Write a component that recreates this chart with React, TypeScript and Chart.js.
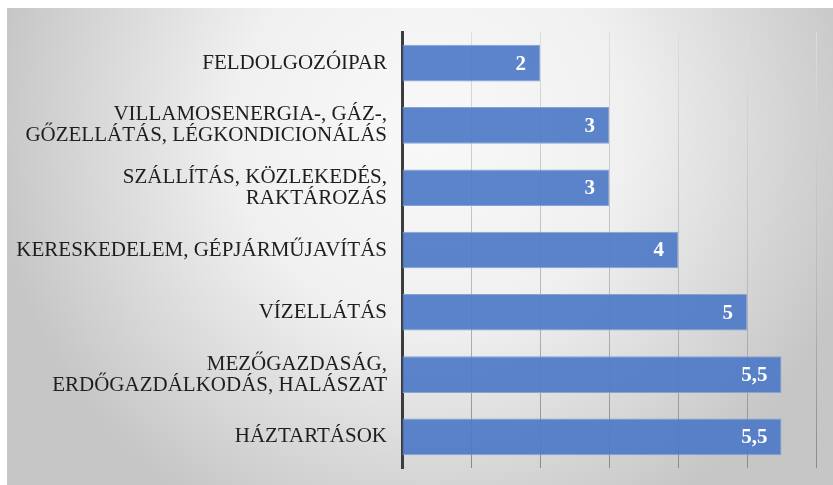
import React, { useEffect, useRef } from "react";
import { Chart, registerables } from "chart.js";

Chart.register(...registerables);

const categories: (string | string[])[] = [
  "FELDOLGOZÓIPAR",
  ["VILLAMOSENERGIA-, GÁZ-,", "GŐZELLÁTÁS, LÉGKONDICIONÁLÁS"],
  ["SZÁLLÍTÁS, KÖZLEKEDÉS,", "RAKTÁROZÁS"],
  "KERESKEDELEM, GÉPJÁRMŰJAVÍTÁS",
  "VÍZELLÁTÁS",
  ["MEZŐGAZDASÁG,", "ERDŐGAZDÁLKODÁS, HALÁSZAT"],
  "HÁZTARTÁSOK",
];
const values: number[] = [2, 3, 3, 4, 5, 5.5, 5.5];
const valueLabels: string[] = ["2", "3", "3", "4", "5", "5,5", "5,5"];
const xMin = 0;
const xMax = 6;
const xStep = 1;

const FONT = "'Liberation Serif', 'Times New Roman', serif";

const bgPlugin = {
  id: "bgPlugin",
  beforeDraw(chart: any) {
    const { ctx, width, height } = chart;
    ctx.save();
    ctx.fillStyle = "#ffffff";
    ctx.fillRect(0, 0, width, height);
    const g = ctx.createRadialGradient(430, 130, 0, 430, 130, 440);
    g.addColorStop(0, "#f9f9f9");
    g.addColorStop(0.45, "#f0f0f0");
    g.addColorStop(1, "#c6c6c6");
    ctx.fillStyle = g;
    ctx.fillRect(7, 8, width - 7, height - 8);
    ctx.restore();
  },
};

const labelPlugin = {
  id: "valueLabels",
  afterDatasetsDraw(chart: any) {
    const { ctx } = chart;
    const meta = chart.getDatasetMeta(0);
    ctx.save();
    ctx.font = `bold 21px ${FONT}`;
    ctx.fillStyle = "#ffffff";
    ctx.textAlign = "right";
    ctx.textBaseline = "middle";
    meta.data.forEach((el: any, i: number) => {
      ctx.fillText(valueLabels[i], el.x - 14, el.y + 1);
    });
    ctx.restore();
  },
};

export default function App() {
  const ref = useRef<HTMLCanvasElement>(null);
  useEffect(() => {
    document.body.style.margin = "0";
    const canvas = ref.current!;
    const ctx0 = canvas.getContext("2d")!;
    const gridGrad = ctx0.createLinearGradient(0, 32, 0, 468);
    gridGrad.addColorStop(0, "#dedede");
    gridGrad.addColorStop(0.6, "#b8b8b8");
    gridGrad.addColorStop(1, "#8a8a8a");
    const chart = new Chart(canvas, {
      type: "bar",
      data: {
        labels: categories,
        datasets: [
          {
            data: values,
            backgroundColor: "rgba(78,122,198,0.92)",
            borderColor: "#86a3d8",
            borderWidth: 1,
            barPercentage: 0.588,
            categoryPercentage: 1,
          },
        ],
      },
      options: {
        indexAxis: "y",
        responsive: false,
        animation: false,
        layout: { padding: { top: 32, right: 17, bottom: 17, left: 0 } },
        plugins: {
          legend: { display: false },
          tooltip: { enabled: false },
        },
        scales: {
          x: {
            min: xMin,
            max: xMax,
            ticks: { display: false, stepSize: xStep },
            grid: { color: gridGrad, lineWidth: 1, drawTicks: false },
            border: { display: false },
          },
          y: {
            grid: { display: false, drawTicks: false },
            border: { display: true, color: "#3c3c3c", width: 3 },
            ticks: {
              color: "#1e1e1e",
              padding: 15,
              font: { family: FONT, size: 21, lineHeight: 1.0 },
            },
            afterFit(scale: any) {
              scale.width = 402;
              scale.paddingTop = 0;
              scale.paddingBottom = 0;
            },
          },
        },
      },
      plugins: [bgPlugin, labelPlugin],
    });
    return () => chart.destroy();
  }, []);
  return (
    <div style={{ width: 833, height: 485 }}>
      <canvas ref={ref} width={833} height={485} />
    </div>
  );
}
